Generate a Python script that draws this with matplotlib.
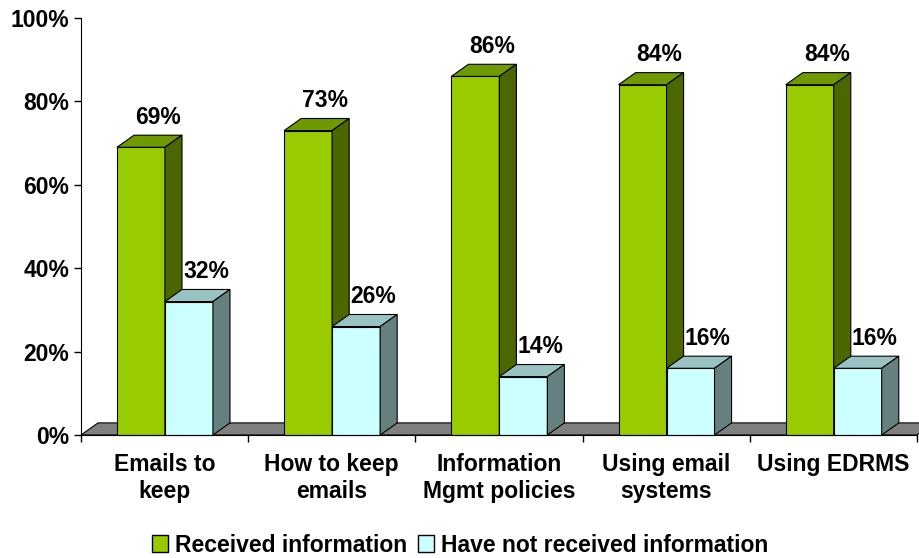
import matplotlib.pyplot as plt
from matplotlib.patches import Polygon, Patch

plt.rcParams['font.family'] = ['Liberation Sans', 'DejaVu Sans']
plt.rcParams['font.weight'] = 'bold'

categories = ['Emails to\nkeep', 'How to keep\nemails', 'Information\nMgmt policies',
              'Using email\nsystems', 'Using EDRMS']
received = [69, 73, 86, 84, 84]
not_received = [32, 26, 14, 16, 16]
series_names = ['Received information', 'Have not received information']

# colours: front, top, side
green = ('#99cc00', '#6f9900', '#4c6600')
cyan = ('#ccffff', '#99c2c2', '#668080')

fs = 16.5

fig = plt.figure(figsize=(9.2, 5.58), dpi=100)
ax = fig.add_axes([81 / 920, 123 / 558, 836 / 920, 417 / 558])
ax.set_xlim(0, 5)
ax.set_ylim(0, 100)

dx, dy = 0.102, 2.9   # depth offset in data units
w = 0.287
off = 0.215

# floor
floor = Polygon([(0, 0), (5, 0), (5 + dx, dy), (dx, dy)], closed=True,
                facecolor='#808080', edgecolor='black', lw=0.8, clip_on=False, zorder=1)
ax.add_patch(floor)


def bar3d(x0, h, cols, z):
    front = Polygon([(x0, 0), (x0 + w, 0), (x0 + w, h), (x0, h)],
                    facecolor=cols[0], edgecolor='black', lw=0.8, zorder=z, clip_on=False)
    top = Polygon([(x0, h), (x0 + w, h), (x0 + w + dx, h + dy), (x0 + dx, h + dy)],
                  facecolor=cols[1], edgecolor='black', lw=0.8, zorder=z, clip_on=False)
    side = Polygon([(x0 + w, 0), (x0 + w + dx, dy), (x0 + w + dx, h + dy), (x0 + w, h)],
                   facecolor=cols[2], edgecolor='black', lw=0.8, zorder=z, clip_on=False)
    for p in (front, top, side):
        ax.add_patch(p)


for i in range(len(categories)):
    x1 = i + off
    x2 = x1 + w
    bar3d(x1, received[i], green, 2 + 2 * i)
    bar3d(x2, not_received[i], cyan, 3 + 2 * i)
    ax.text(x1 + w / 2 + dx, received[i] + dy + 1.6, f'{received[i]}%',
            ha='center', va='bottom', fontsize=fs, fontweight='bold', zorder=20)
    ax.text(x2 + w / 2 + dx, not_received[i] + dy + 1.6, f'{not_received[i]}%',
            ha='center', va='bottom', fontsize=fs, fontweight='bold', zorder=20)

ax.spines['top'].set_visible(False)
ax.spines['right'].set_visible(False)
ax.spines['left'].set_zorder(30)
ax.spines['bottom'].set_zorder(30)

ax.set_yticks(range(0, 101, 20))
ax.set_yticklabels([f'{v}%' for v in range(0, 101, 20)], fontsize=fs, fontweight='bold')
ax.set_xticks(range(0, 6))
ax.set_xticklabels([])
ax.set_xticks([i + 0.5 for i in range(5)], minor=True)
ax.set_xticklabels(categories, minor=True, fontsize=fs, fontweight='bold', linespacing=1.22)
ax.tick_params(axis='x', which='minor', length=0, pad=13)
ax.tick_params(axis='both', which='major', length=5, width=1, direction='out')

handles = [Patch(facecolor=green[0], edgecolor='black'), Patch(facecolor=cyan[0], edgecolor='black')]
fig.legend(handles, series_names, loc='center', bbox_to_anchor=(0.5, 13 / 558), ncol=2,
           frameon=False, handlelength=0.7, handleheight=0.7, handletextpad=0.3,
           columnspacing=0.5, prop={'size': fs, 'weight': 'bold'})

fig.savefig('out.png', dpi=100)
